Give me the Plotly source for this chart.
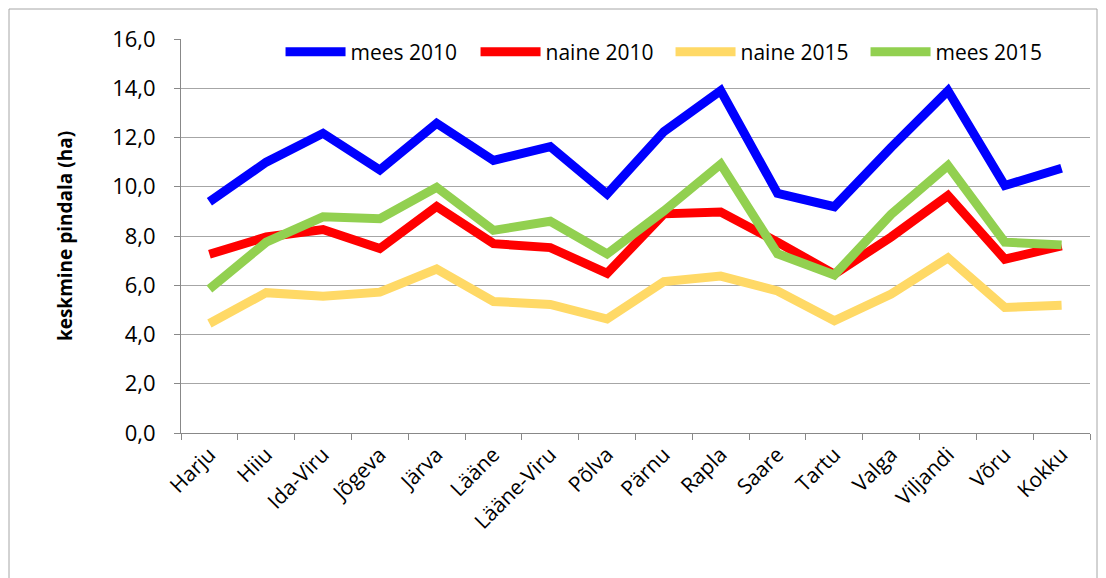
import plotly.graph_objects as go

categories = ["Harju", "Hiiu", "Ida-Viru", "Jõgeva", "Järva", "Lääne", "Lääne-Viru", "Põlva",
              "Pärnu", "Rapla", "Saare", "Tartu", "Valga", "Viljandi", "Võru", "Kokku"]
mees_2010 = [9.39, 11.0, 12.17, 10.68, 12.58, 11.07, 11.63, 9.7, 12.24, 13.9, 9.73, 9.19, 11.6, 13.9, 10.05, 10.75]
naine_2010 = [7.26, 7.96, 8.26, 7.49, 9.2, 7.69, 7.53, 6.48, 8.9, 8.97, 7.75, 6.45, 7.96, 9.64, 7.06, 7.6]
naine_2015 = [4.45, 5.7, 5.55, 5.72, 6.66, 5.34, 5.22, 4.63, 6.15, 6.37, 5.77, 4.56, 5.64, 7.11, 5.1, 5.19]
mees_2015 = [5.85, 7.75, 8.78, 8.7, 9.98, 8.23, 8.6, 7.27, 9.02, 10.92, 7.28, 6.42, 8.88, 10.86, 7.75, 7.64]

series = [
    ("mees 2010", mees_2010, "#0000FF"),
    ("naine 2010", naine_2010, "#FF0000"),
    ("naine 2015", naine_2015, "#FFD966"),
    ("mees 2015", mees_2015, "#92D050"),
]

FONT = "Open Sans"

fig = go.Figure()
for name, vals, color in series:
    fig.add_trace(go.Scatter(x=categories, y=vals, name=name, mode="lines",
                             line=dict(color=color, width=9, shape="linear"),
                             hoverinfo="x+y+name"))

# page has an 8px body margin; paper starts at (8, 8)
W, H = 1090, 570
L, T, R, B = 173, 31, 8, 145
pw, ph = W - L - R, H - T - B

fig.update_layout(
    width=W, height=H,
    margin=dict(l=L, r=R, t=T, b=B),
    paper_bgcolor="white", plot_bgcolor="white",
    separators=", ",
    font=dict(family=FONT, size=21, color="black"),
    showlegend=True,
    legend=dict(orientation="h", x=0.1095, y=1 - 13 / ph, xanchor="left", yanchor="middle",
                font=dict(family=FONT, size=21, color="black"),
                bgcolor="rgba(0,0,0,0)", traceorder="normal",
                itemwidth=60, entrywidth=120, entrywidthmode="pixels",
                tracegroupgap=0),
    xaxis=dict(type="category", tickson="boundaries", ticks="outside", ticklen=6,
               tickcolor="#888888", showline=True, linecolor="#888888", linewidth=1,
               showgrid=False, tickangle=-45, tickfont=dict(family=FONT, size=21),
               range=[-0.5, 15.5]),
    yaxis=dict(range=[0, 16], dtick=2, tickformat=".1f", ticks="outside", ticklen=6,
               tickcolor="#888888", showline=True, linecolor="#888888", linewidth=1,
               showgrid=True, gridcolor="#A6A6A6", gridwidth=1, zeroline=False,
               tickfont=dict(family=FONT, size=22), ticklabelstandoff=14,
               title=dict(text="<b>keskmine pindala (ha)</b>",
                          font=dict(family=FONT, size=19), standoff=34)),
    shapes=[dict(type="rect", xref="paper", yref="paper",
                 x0=(1 - L) / pw, x1=(W - 1 - L) / pw,
                 y0=-(B + 20) / ph, y1=1 + (T - 1) / ph,
                 line=dict(color="#A6A6A6", width=1), fillcolor="rgba(0,0,0,0)", layer="below")],
)

fig.write_html("out.html")
